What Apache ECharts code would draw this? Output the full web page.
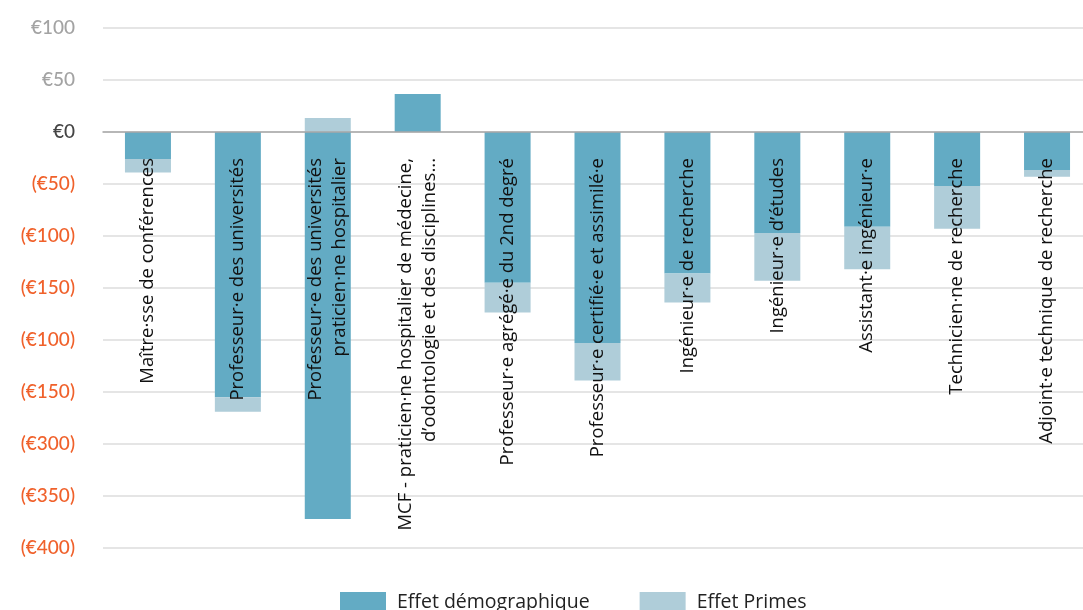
<!DOCTYPE html>
<html>
<head>
<meta charset="utf-8">
<script src="https://cdn.jsdelivr.net/npm/echarts@6/dist/echarts.min.js"></script>
<style>
  html, body { margin: 0; padding: 0; background: #ffffff; }
  #chart { width: 1083px; height: 610px; }
</style>
</head>
<body>
<div id="chart"></div>
<script>
// Job categories (x axis)
const categories = [
  "Maître·sse de conférences",
  "Professeur·e des universités",
  "Professeur·e des universités\npraticien·ne hospitalier",
  "MCF - praticien·ne hospitalier de médecine,\nd’odontologie et des disciplines...",
  "Professeur·e agrégé·e du 2nd degré",
  "Professeur·e certifié·e et assimilé·e",
  "Ingénieur·e de recherche",
  "Ingénieur·e d’études",
  "Assistant·e ingénieur·e",
  "Technicien·ne de recherche",
  "Adjoint·e technique de recherche"
];

// Demographic effect (€)
const effetDemographique = [-26, -255, -372, 36.5, -145, -203, -136, -97, -91, -52, -36.5];

// Bonus effect (€)
const effetPrimes = [-13, -14, 13.5, 0, -28.5, -36, -28, -46, -41, -41, -6.5];

// Y-axis tick values and the labels printed next to them
const tickValues = [100, 50, 0, -50, -100, -150, -200, -250, -300, -350, -400];
const tickLabels = ["€100", "€50", "€0", "(€50)", "(€100)", "(€150)", "(€100)", "(€150)", "(€300)", "(€350)", "(€400)"];

const seriesNames = ["Effet démographique", "Effet Primes"];
const colors = ["#63abc4", "#afcdd9"];

const chart = echarts.init(document.getElementById('chart'), null, { renderer: 'canvas' });

const labelFor = {};
tickValues.forEach((v, i) => { labelFor[v] = tickLabels[i]; });

chart.setOption({
  animation: false,
  color: colors,
  grid: { left: 103, right: -9, top: 28, bottom: 62, containLabel: false, outerBoundsMode: 'none' },
  legend: {
    top: 587,
    left: 335,
    itemWidth: 46,
    itemHeight: 20,
    itemGap: 50,
    icon: 'rect',
    textStyle: { fontFamily: 'Open Sans', fontSize: 19.5, color: '#222', padding: [0, 0, 0, 6] },
    data: seriesNames
  },
  xAxis: {
    type: 'category',
    data: categories,
    z: 10,
    axisLine: { onZero: true, lineStyle: { color: '#a8a8a8', width: 1.5 } },
    axisTick: { show: false },
    axisLabel: {
      interval: 0,
      rotate: 90,
      margin: -390,
      fontFamily: 'Open Sans',
      fontSize: 18.5,
      fontWeight: 500,
      lineHeight: 24,
      color: '#111'
    },
    splitLine: { show: false }
  },
  yAxis: {
    type: 'value',
    min: -400,
    max: 100,
    interval: 50,
    axisLine: { show: false },
    axisTick: { show: false },
    splitLine: { lineStyle: { color: '#dcdcdc', width: 1.5 } },
    axisLabel: {
      margin: 28,
      fontFamily: 'Lato',
      fontSize: 19,
      fontWeight: 500,
      formatter: v => {
        const t = labelFor[v] || '';
        if (v > 0) return '{pos|' + t + '}';
        if (v === 0) return '{zero|' + t + '}';
        return '{neg|' + t + '}';
      },
      rich: {
        pos: { color: '#a3a3a3', fontFamily: 'Lato', fontSize: 19, fontWeight: 500 },
        zero: { color: '#444444', fontFamily: 'Lato', fontSize: 19, fontWeight: 500 },
        neg: { color: '#f0612b', fontFamily: 'Lato', fontSize: 19, fontWeight: 500 }
      }
    }
  },
  series: [
    {
      name: seriesNames[0],
      type: 'bar',
      stack: 'total',
      barWidth: 46,
      data: effetDemographique
    },
    {
      name: seriesNames[1],
      type: 'bar',
      stack: 'total',
      barWidth: 46,
      data: effetPrimes
    }
  ]
});
</script>
</body>
</html>
